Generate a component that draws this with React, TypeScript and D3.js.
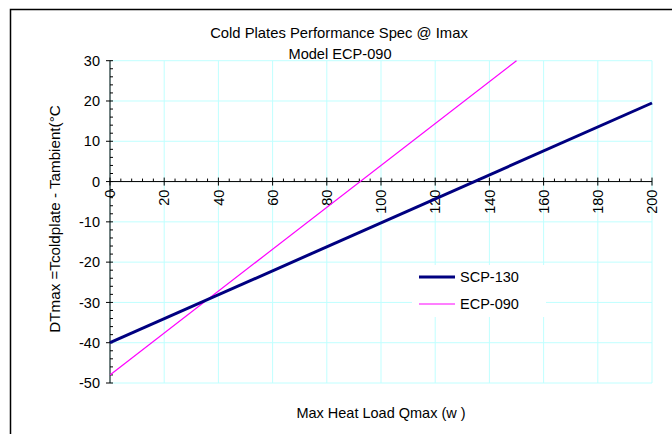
import React from "react"
import * as d3 from "d3"

// chart text
const title = "Cold Plates Performance Spec @ Imax"
const subtitle = "Model ECP-090"
const xTitle = "Max Heat Load Qmax (w )"
const yTitle = "DTmax =Tcoldplate - Tambient(°C"

// axis ticks
const xTicks = [0, 20, 40, 60, 80, 100, 120, 140, 160, 180, 200]
const yTicks = [-50, -40, -30, -20, -10, 0, 10, 20, 30]

// series
const seriesNames = ["SCP-130", "ECP-090"]
const scpLoad = [0, 200]
const scpDT = [-40, 19.5]
const ecpLoad = [0, 150]
const ecpDT = [-48, 30]

const W = 672
const H = 434
const FONT = "'Liberation Sans', Arial, sans-serif"
const GRID = "#c0ffff"

export default function App() {
  const x = d3.scaleLinear().domain([0, 200]).range([110, 652])
  const y = d3.scaleLinear().domain([-50, 30]).range([383, 60.7])

  const line = d3
    .line<[number, number]>()
    .x((d) => x(d[0]))
    .y((d) => y(d[1]))

  const scp = scpLoad.map((v, i) => [v, scpDT[i]] as [number, number])
  const ecp = ecpLoad.map((v, i) => [v, ecpDT[i]] as [number, number])

  const xMinor = d3.range(0, 201, 4).filter((v) => v % 20 !== 0)
  const yMinor = d3.range(-50, 31, 2).filter((v) => v % 10 !== 0)

  const [x0, x1] = x.range()
  const [yb, yt] = y.range()
  const y0 = y(0)

  return (
    <svg
      width={W}
      height={H}
      style={{ position: "absolute", left: 0, top: 0, background: "#fff" }}
      fontFamily={FONT}
    >
      {/* chart frame */}
      <rect x={10.5} y={9.5} width={700} height={460} fill="#fff" stroke="#000" strokeWidth={1.5} />

      {/* gridlines */}
      {xTicks.map((t) => (
        <line key={"gx" + t} x1={x(t)} x2={x(t)} y1={yt} y2={yb} stroke={GRID} strokeWidth={1} />
      ))}
      {yTicks.map((t) => (
        <line key={"gy" + t} x1={x0} x2={x1} y1={y(t)} y2={y(t)} stroke={GRID} strokeWidth={1} />
      ))}

      {/* titles */}
      <text x={339} y={38} textAnchor="middle" fontSize={14.8} fill="#000">{title}</text>
      <text x={340} y={59} textAnchor="middle" fontSize={14.6} fill="#000">{subtitle}</text>

      {/* y axis */}
      <line x1={x0} x2={x0} y1={yt} y2={yb} stroke="#000" />
      {yTicks.map((t) => (
        <g key={"yt" + t}>
          <line x1={x0 - 4} x2={x0 + 3} y1={y(t)} y2={y(t)} stroke="#000" />
          <text x={100} y={y(t)} dy="0.36em" textAnchor="end" fontSize={14.5} fill="#000">{t}</text>
        </g>
      ))}
      {yMinor.map((t) => (
        <line key={"ym" + t} x1={x0} x2={x0 + 3} y1={y(t)} y2={y(t)} stroke="#000" />
      ))}

      {/* x axis at zero */}
      <line x1={x0} x2={x1} y1={y0} y2={y0} stroke="#000" />
      {xTicks.map((t) => (
        <g key={"xt" + t}>
          <line x1={x(t)} x2={x(t)} y1={y0 - 4} y2={y0 + 4} stroke="#000" />
          <text
            transform={`translate(${x(t)},${y0 + 8}) rotate(-90)`}
            dy="0.36em"
            textAnchor="end"
            fontSize={14.5}
            fill="#000"
          >
            {t}
          </text>
        </g>
      ))}
      {xMinor.map((t) => (
        <line key={"xm" + t} x1={x(t)} x2={x(t)} y1={y0 - 3} y2={y0} stroke="#000" />
      ))}

      {/* series */}
      <path d={line(ecp) ?? ""} fill="none" stroke="#ff00ff" strokeWidth={1.2} />
      <path d={line(scp) ?? ""} fill="none" stroke="#000080" strokeWidth={3} />

      {/* legend */}
      <rect x={412} y={265} width={134} height={52} fill="#fff" />
      <line x1={419} x2={455} y1={277} y2={277} stroke="#000080" strokeWidth={3} />
      <text x={460} y={277} dy="0.36em" fontSize={14.5} fill="#000">{seriesNames[0]}</text>
      <line x1={419} x2={455} y1={304} y2={304} stroke="#ff00ff" strokeWidth={1.2} />
      <text x={460} y={304} dy="0.36em" fontSize={14.5} fill="#000">{seriesNames[1]}</text>

      {/* axis titles */}
      <text x={381} y={413} dy="0.36em" textAnchor="middle" fontSize={14.5} fill="#000">{xTitle}</text>
      <text
        transform={`translate(55,219) rotate(-90)`}
        dy="0.36em"
        textAnchor="middle"
        fontSize={15.2}
        fill="#000"
      >
        {yTitle}
      </text>
    </svg>
  )
}
